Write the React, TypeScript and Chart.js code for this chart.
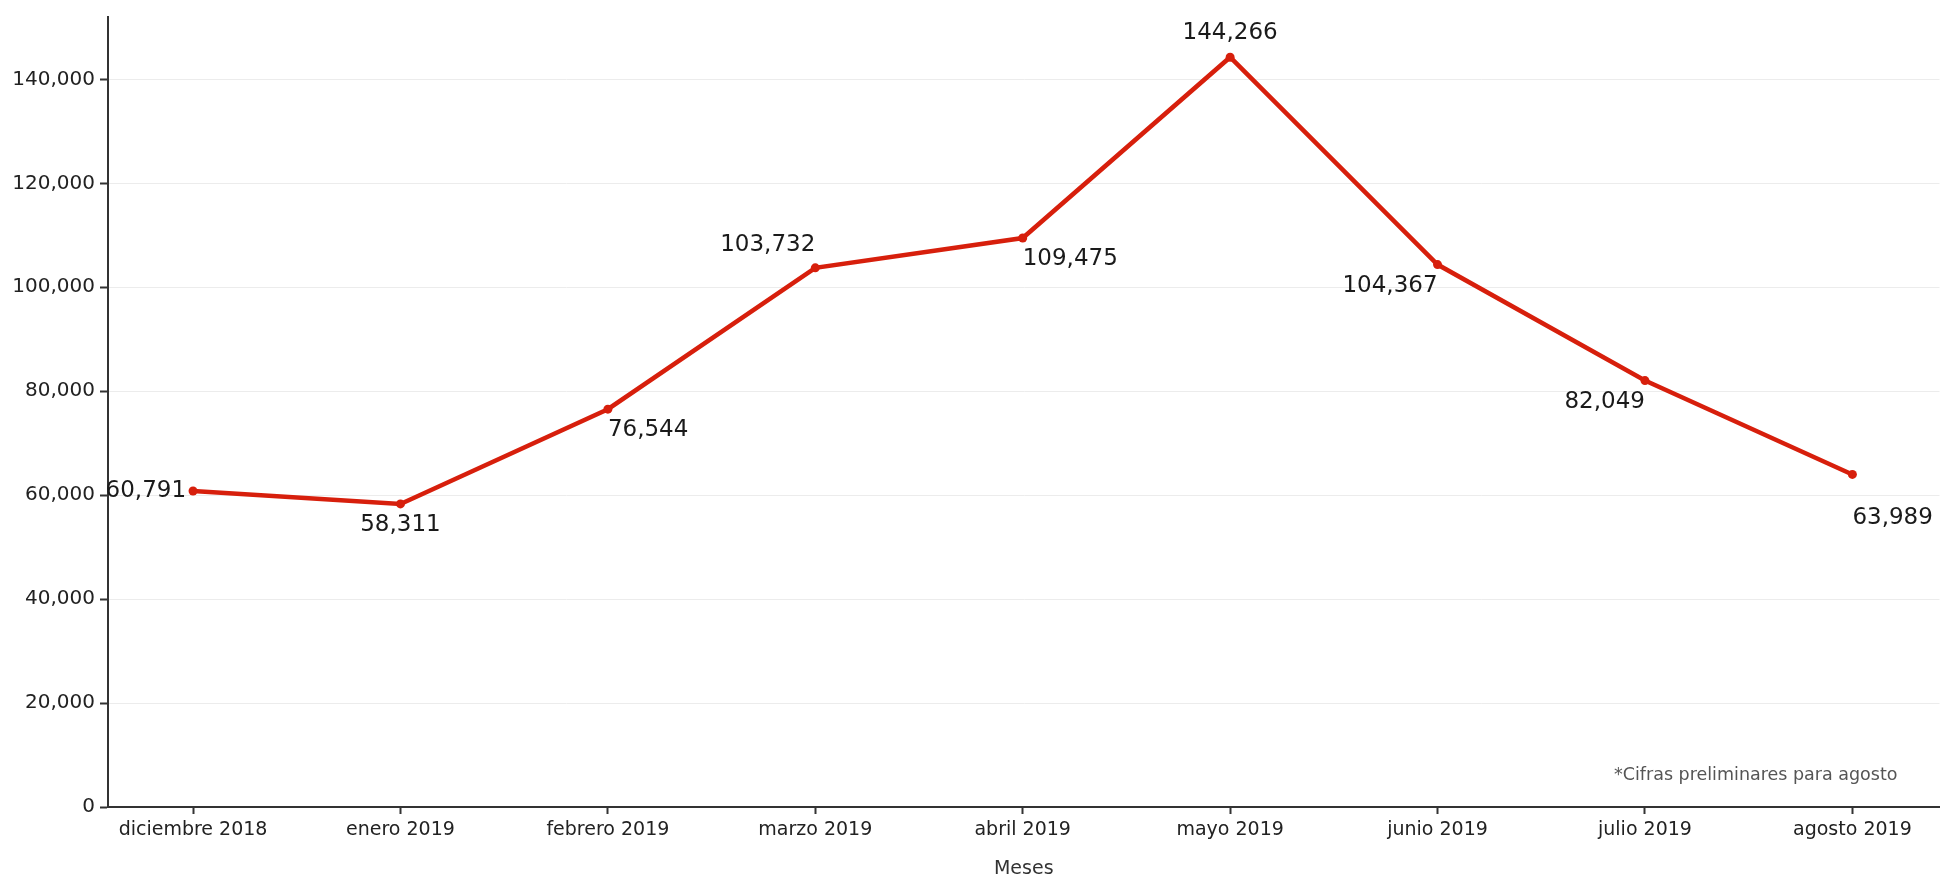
import React, { useEffect, useRef } from 'react';
import { Chart, registerables } from 'chart.js';

Chart.register(...registerables);

const months = [
  'diciembre 2018',
  'enero 2019',
  'febrero 2019',
  'marzo 2019',
  'abril 2019',
  'mayo 2019',
  'junio 2019',
  'julio 2019',
  'agosto 2019',
];
const values = [60791, 58311, 76544, 103732, 109475, 144266, 104367, 82049, 63989];
const labelPlacement = [
  'left',
  'below',
  'below-right',
  'above-left',
  'below-right',
  'above',
  'below-left',
  'below-left',
  'below-right-far',
];
const yTicks = [0, 20000, 40000, 60000, 80000, 100000, 120000, 140000];
const yMax = 152000;
const xTitle = 'Meses';
const footnote = '*Cifras preliminares para agosto';

const FONT = "'DejaVu Sans', sans-serif";
const RED = '#d71f0c';

const labelsPlugin = {
  id: 'valueLabels',
  afterDatasetsDraw(chart: any) {
    const ctx = chart.ctx;
    const meta = chart.getDatasetMeta(0);
    ctx.save();
    ctx.font = `23px ${FONT}`;
    ctx.fillStyle = '#1a1a1a';
    ctx.textBaseline = 'middle';
    meta.data.forEach((pt: any, i: number) => {
      const text = values[i].toLocaleString('en-US');
      const p = labelPlacement[i];
      let x = pt.x;
      let y = pt.y;
      let align: CanvasTextAlign = 'center';
      if (p === 'left') { align = 'right'; x -= 7; }
      else if (p === 'below') { y += 21; }
      else if (p === 'below-right') { align = 'left'; y += 21; }
      else if (p === 'above-left') { align = 'right'; y -= 23; }
      else if (p === 'above') { y -= 24; }
      else if (p === 'below-left') { align = 'right'; y += 21; }
      else if (p === 'below-right-far') { align = 'left'; y += 44; }
      ctx.textAlign = align;
      ctx.fillText(text, x, y);
    });
    const area = chart.chartArea;
    ctx.font = `17.5px ${FONT}`;
    ctx.fillStyle = '#555';
    ctx.textAlign = 'right';
    ctx.fillText(footnote, area.right - 42, area.bottom - 32);
    ctx.restore();
  },
};

export default function App() {
  const ref = useRef<HTMLCanvasElement>(null);

  useEffect(() => {
    if (!ref.current) return;
    const chart = new Chart(ref.current, {
      type: 'line',
      data: {
        datasets: [
          {
            data: values.map((v, i) => ({ x: i, y: v })),
            borderColor: RED,
            backgroundColor: RED,
            borderWidth: 4.5,
            pointRadius: 4.5,
            pointBorderWidth: 0,
            pointBackgroundColor: RED,
            tension: 0,
            clip: false as any,
          },
        ],
      },
      plugins: [labelsPlugin],
      options: {
        animation: false,
        responsive: true,
        maintainAspectRatio: false,
        layout: { padding: { top: 12, left: 0, right: 0, bottom: 0 } },
        plugins: {
          legend: { display: false },
          tooltip: { enabled: false },
        },
        scales: {
          x: {
            type: 'linear',
            min: -0.41,
            max: 8.42,
            afterBuildTicks: (s: any) => {
              s.ticks = months.map((_, i) => ({ value: i }));
            },
            afterFit: (s: any) => {
              s.height = 67;
            },
            ticks: {
              autoSkip: false,
              maxRotation: 0,
              padding: 5,
              color: '#222',
              font: { family: FONT, size: 19 },
              callback: (v: any) => months[v as number],
            },
            grid: {
              drawOnChartArea: false,
              tickColor: '#333',
              tickLength: 7,
              tickWidth: 2,
            },
            border: { color: '#333', width: 2 },
            title: {
              display: true,
              text: xTitle,
              color: '#333',
              font: { family: FONT, size: 19, lineHeight: 0.55 },
              padding: 0,
            },
          },
          y: {
            type: 'linear',
            min: 0,
            max: yMax,
            afterBuildTicks: (s: any) => {
              s.ticks = yTicks.map((v) => ({ value: v }));
            },
            afterFit: (s: any) => {
              s.width = 108;
            },
            ticks: {
              padding: 5,
              color: '#222',
              font: { family: FONT, size: 20 },
              callback: (v: any) => Number(v).toLocaleString('en-US'),
            },
            grid: {
              color: '#ececec',
              lineWidth: 1,
              tickColor: '#333',
              tickLength: 8,
              tickWidth: 2,
            },
            border: { color: '#333', width: 2 },
          },
        },
      } as any,
    });
    return () => chart.destroy();
  }, []);

  return (
    <div
      style={{
        position: 'fixed',
        left: 0,
        top: 0,
        width: 1944,
        height: 874,
        background: '#fff',
      }}
    >
      <canvas ref={ref} />
    </div>
  );
}
